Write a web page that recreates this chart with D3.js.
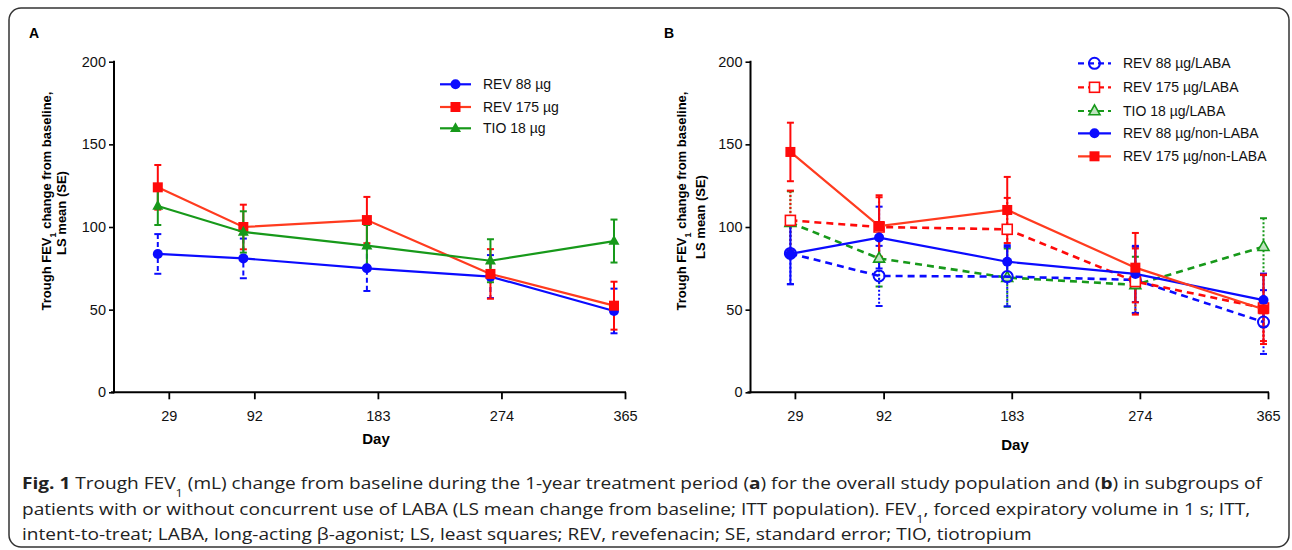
<!DOCTYPE html>
<html><head><meta charset="utf-8">
<script src="https://cdn.jsdelivr.net/npm/d3@7/dist/d3.min.js"></script>
<style>
html,body{margin:0;padding:0;background:#fff;}
svg text{font-family:"Liberation Sans",Arial,sans-serif;}
</style></head>
<body>
<svg id="chart" width="1292" height="550"></svg>
<script>
// ---------- DATA ----------
const days = [29, 92, 183, 274, 365];
const dayTickLabels = ["29", "92", "183", "274", "365"];
const yTickValues = [0, 50, 100, 150, 200];

// Panel A (overall population)
const rev88A = [83.7, 81.0, 75.0, 70.0, 49.2];
const rev88A_se = [12.0, 12.0, 13.7, 13.0, 13.5];
const rev175A = [124.0, 100.0, 104.2, 71.6, 52.4];
const rev175A_se = [13.5, 13.5, 14.0, 15.0, 14.5];
const tioA = [112.7, 97.0, 88.7, 79.6, 91.5];
const tioA_se = [11.5, 12.5, 12.5, 13.0, 13.0];
const legendA = ["REV 88 µg", "REV 175 µg", "TIO 18 µg"];

// Panel B (LABA subgroups)
const rev88LABA = [84.0, 70.4, 70.0, 68.0, 42.5];
const rev88LABA_se = [18.5, 18.2, 18.0, 20.0, 19.3];
const rev175LABA = [104.0, 100.0, 98.6, 67.0, 51.0];
const rev175LABA_se = [18.0, 18.0, 19.0, 20.0, 20.0];
const tioLABA = [102.6, 81.0, 69.4, 65.0, 88.1];
const tioLABA_se = [19.0, 17.0, 17.6, 17.0, 17.2];
const rev88NL = [83.7, 93.6, 79.0, 71.6, 55.8];
const rev88NL_se = [18.4, 18.7, 10.0, 17.0, 16.0];
const rev175NL = [145.4, 100.6, 110.3, 75.4, 50.2];
const rev175NL_se = [17.7, 18.6, 20.0, 21.0, 21.0];
const legendB = ["REV 88 µg/LABA", "REV 175 µg/LABA", "TIO 18 µg/LABA", "REV 88 µg/non-LABA", "REV 175 µg/non-LABA"];

// ---------- STYLES ----------
const BLUE = "#0b0bff", RED = "#ff0a0a", REDLINE = "#ff3b1f", GREEN = "#17991a";

const svg = d3.select("#chart");

// outer frame
svg.append("rect").attr("x", 9).attr("y", 8).attr("width", 1280).attr("height", 539)
  .attr("rx", 12).attr("fill", "none").attr("stroke", "#333").attr("stroke-width", 1.5);

function marker(g, shape, cx, cy, color, open) {
  const sw = open ? 1.6 : 0;
  const fill = open ? "#fff" : color;
  if (shape === "circle") {
    g.append("circle").attr("cx", cx).attr("cy", cy).attr("r", open ? 5.5 : 5)
      .attr("fill", open ? "none" : color).attr("stroke", color).attr("stroke-width", open ? 2 : 0);
  } else if (shape === "square") {
    const s = 10;
    g.append("rect").attr("x", cx - s / 2).attr("y", cy - s / 2).attr("width", s).attr("height", s)
      .attr("fill", fill).attr("stroke", color).attr("stroke-width", sw);
  } else {
    const s = 11, h = s * 0.9;
    g.append("path").attr("d", `M${cx},${cy - h * 0.62}L${cx + s / 2},${cy + h * 0.38}L${cx - s / 2},${cy + h * 0.38}Z`)
      .attr("fill", open ? "#bfe3bf" : color).attr("stroke", color).attr("stroke-width", sw);
  }
}

function panel(p) {
  const g = svg.append("g");
  const x = d3.scaleLinear().domain([days[0], days[days.length - 1]]).range(p.xRange);
  const y = d3.scaleLinear().domain([0, 200]).range([392.3, 61.7]);
  const px = d => x(d) - p.ptOffset;

  // axes
  const yAx = g.append("g").attr("transform", `translate(${p.axisX},0)`)
    .call(d3.axisLeft(y).tickValues(yTickValues).tickSize(5).tickPadding(3));
  yAx.select(".domain").remove();
  yAx.selectAll(".tick line").attr("stroke", "#000").attr("stroke-width", 1.6);
  yAx.selectAll(".tick text").attr("font-size", 14.5).attr("fill", "#111").attr("font-family", "Liberation Sans, Arial, sans-serif");
  g.append("line").attr("x1", p.axisX).attr("x2", p.axisX).attr("y1", y(200) - 1).attr("y2", y(0) + 1)
    .attr("stroke", "#000").attr("stroke-width", 2);

  const xAx = g.append("g").attr("transform", `translate(0,${y(0)})`)
    .call(d3.axisBottom(x).tickValues(days).tickFormat((d, i) => dayTickLabels[i]).tickSize(7).tickPadding(11));
  xAx.select(".domain").remove();
  xAx.selectAll(".tick line").attr("stroke", "#000").attr("stroke-width", 1.8);
  xAx.selectAll(".tick text").attr("font-size", 14.5).attr("fill", "#111").attr("font-family", "Liberation Sans, Arial, sans-serif");
  g.append("line").attr("x1", p.axisX - 3).attr("x2", x(365) + 1).attr("y1", y(0)).attr("y2", y(0))
    .attr("stroke", "#000").attr("stroke-width", 2);

  // titles
  g.append("text").attr("x", p.dayX).attr("y", p.dayY).attr("text-anchor", "middle")
    .attr("font-weight", "bold").attr("font-size", 15).text("Day");
  g.append("text").attr("x", p.labelX).attr("y", 38).attr("font-weight", "bold").attr("font-size", 14).text(p.label);
  const t1 = g.append("text").attr("transform", `translate(${p.yl1x},${p.yl1y}) rotate(-90)`)
    .attr("text-anchor", "middle").attr("font-weight", "bold").attr("font-size", 13);
  t1.append("tspan").text("Trough FEV");
  t1.append("tspan").attr("font-size", 9).attr("baseline-shift", "sub").text("1");
  t1.append("tspan").text(" change from baseline,");
  g.append("text").attr("transform", `translate(${p.yl2x},${p.yl2y}) rotate(-90)`)
    .attr("text-anchor", "middle").attr("font-weight", "bold").attr("font-size", 13).text("LS mean (SE)");

  // series
  const line = d3.line().x(d => px(d.day)).y(d => y(d.v));
  p.series.forEach(s => {
    const pts = days.map((d, i) => ({ day: d, v: s.values[i], se: s.se[i] }));
    const eb = g.append("g");
    pts.forEach(d => {
      const cx = px(d.day), y1 = y(d.v + d.se), y2 = y(d.v - d.se);
      eb.append("line").attr("x1", cx).attr("x2", cx).attr("y1", y1).attr("y2", y2)
        .attr("stroke", s.color).attr("stroke-width", 2).attr("stroke-dasharray", s.ebDash || null);
      [y1, y2].forEach(yy => eb.append("line").attr("x1", cx - 3.5).attr("x2", cx + 3.5).attr("y1", yy).attr("y2", yy)
        .attr("stroke", s.color).attr("stroke-width", 2));
    });
  });
  p.series.forEach(s => {
    const pts = days.map((d, i) => ({ day: d, v: s.values[i] }));
    g.append("path").datum(pts).attr("d", line).attr("fill", "none")
      .attr("stroke", s.lineColor || s.color).attr("stroke-width", s.dash ? 2.6 : 2.2)
      .attr("stroke-dasharray", s.dash || null);
    pts.forEach(d => marker(g, s.shape, px(d.day), y(d.v), s.color, s.open));
  });

  // legend
  p.legendOrder.forEach((s, i) => {
    const ly = p.legY[i];
    g.append("line").attr("x1", p.legX[0]).attr("x2", p.legX[1]).attr("y1", ly).attr("y2", ly)
      .attr("stroke", s.lineColor || s.color).attr("stroke-width", 2.2).attr("stroke-dasharray", s.dash ? "6,4" : null);
    marker(g, s.shape, (p.legX[0] + p.legX[1]) / 2, ly, s.color, s.open);
    g.append("text").attr("x", p.legText).attr("y", ly + 5).attr("font-size", 14).attr("fill", "#111").text(s.name);
  });
}

// Panel A
const seriesA = [
  { name: legendA[0], values: rev88A, se: rev88A_se, color: BLUE, shape: "circle", ebDash: "5,3" },
  { name: legendA[1], values: rev175A, se: rev175A_se, color: RED, lineColor: REDLINE, shape: "square" },
  { name: legendA[2], values: tioA, se: tioA_se, color: GREEN, shape: "triangle" }
];
panel({
  xRange: [168.8, 625], axisX: 114, ptOffset: 11, series: seriesA, legendOrder: seriesA,
  legX: [440, 471], legText: 483, legY: [84.3, 107, 128.3],
  dayX: 376, dayY: 444, label: "A", labelX: 29,
  yl1x: 51, yl1y: 201, yl2x: 66, yl2y: 213
});

// Panel B
const bLabaRev88 = { name: legendB[0], values: rev88LABA, se: rev88LABA_se, color: BLUE, shape: "circle", open: true, dash: "7,5", ebDash: "2,2" };
const bLabaRev175 = { name: legendB[1], values: rev175LABA, se: rev175LABA_se, color: RED, shape: "square", open: true, dash: "7,5", ebDash: "2,2" };
const bLabaTio = { name: legendB[2], values: tioLABA, se: tioLABA_se, color: GREEN, shape: "triangle", open: true, dash: "7,5", ebDash: "2,2" };
const bNlRev88 = { name: legendB[3], values: rev88NL, se: rev88NL_se, color: BLUE, shape: "circle" };
const bNlRev175 = { name: legendB[4], values: rev175NL, se: rev175NL_se, color: RED, lineColor: REDLINE, shape: "square" };
panel({
  xRange: [794.9, 1268], axisX: 750.5, ptOffset: 4.5,
  series: [bLabaTio, bLabaRev88, bLabaRev175, bNlRev88, bNlRev175],
  legendOrder: [bLabaRev88, bLabaRev175, bLabaTio, bNlRev88, bNlRev175],
  legX: [1078, 1111], legText: 1123, legY: [63.3, 87.3, 111, 133.3, 156.3],
  dayX: 1015, dayY: 450, label: "B", labelX: 664,
  yl1x: 686, yl1y: 201, yl2x: 704.5, yl2y: 217
});

// ---------- CAPTION ----------
const capLines = [
  { y: 489, parts: [["Fig. 1", "b"], [" Trough FEV"], ["1", "s"], [" (mL) change from baseline during the 1-year treatment period ("], ["a", "b"], [") for the overall study population and ("], ["b", "b"], [") in subgroups of"]] },
  { y: 515, parts: [["patients with or without concurrent use of LABA (LS mean change from baseline; ITT population). FEV"], ["1", "s"], [", forced expiratory volume in 1 s; ITT,"]] },
  { y: 540, parts: [["intent-to-treat; LABA, long-acting β-agonist; LS, least squares; REV, revefenacin; SE, standard error; TIO, tiotropium"]] }
];
const capNodes = capLines.map(l => {
  const t = svg.append("text").attr("x", 22).attr("y", l.y).attr("font-size", 16.5)
    .attr("fill", "#222").style("font-family", "'Open Sans', 'Noto Sans', sans-serif");
  l.parts.forEach(pt => {
    const ts = t.append("tspan").text(pt[0]);
    if (pt[1] === "b") ts.attr("font-weight", "bold");
    if (pt[1] === "s") ts.attr("font-size", 11).attr("baseline-shift", "sub");
  });
  return t;
});
// one common horizontal scale so that the first line ends where the reference's does
const capScale = 1240 / capNodes[0].node().getComputedTextLength();
capNodes.forEach(t => {
  const w = t.node().getComputedTextLength();
  t.attr("textLength", w * capScale).attr("lengthAdjust", "spacingAndGlyphs");
});
</script>
</body></html>
